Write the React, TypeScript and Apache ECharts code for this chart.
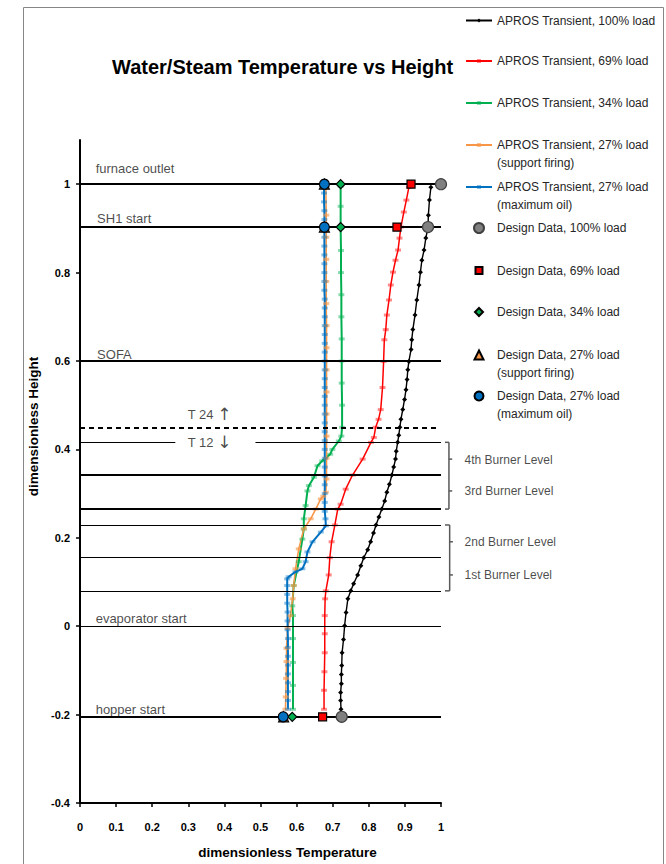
import React, { useEffect, useRef } from "react";
import * as echarts from "echarts";

const FONT = '"Liberation Sans", Arial, sans-serif';

// ---------------- data ----------------
const xTickInterval = 0.1;
const yTickValues = [-0.4, -0.2, 0, 0.2, 0.4, 0.6, 0.8, 1.0];

const seriesNames = [
  "APROS Transient, 100% load",
  "APROS Transient, 69% load",
  "APROS Transient, 34% load",
  "APROS Transient, 27% load\n(support firing)",
  "APROS Transient, 27% load\n(maximum oil)",
];
const designNames = [
  "Design Data, 100% load",
  "Design Data, 69% load",
  "Design Data, 34% load",
  "Design Data, 27% load\n(support firing)",
  "Design Data, 27% load\n(maximum oil)",
];

// [dimensionless temperature, dimensionless height]
const transient100 = [
  [0.723, -0.188], [0.722, -0.168], [0.722, -0.15], [0.724, -0.13], [0.724, -0.109],
  [0.725, -0.089], [0.726, -0.06], [0.73, -0.03], [0.733, 0.001], [0.737, 0.031],
  [0.742, 0.062], [0.75, 0.08], [0.758, 0.096], [0.769, 0.116], [0.778, 0.137],
  [0.786, 0.155], [0.797, 0.173], [0.805, 0.191], [0.813, 0.211], [0.82, 0.229],
  [0.828, 0.247], [0.836, 0.265], [0.844, 0.283], [0.85, 0.303], [0.857, 0.321],
  [0.864, 0.342], [0.869, 0.36], [0.874, 0.378], [0.876, 0.396], [0.88, 0.416],
  [0.883, 0.432], [0.886, 0.45], [0.889, 0.468], [0.894, 0.49], [0.899, 0.513],
  [0.903, 0.535], [0.906, 0.558], [0.908, 0.58], [0.911, 0.599], [0.917, 0.626],
  [0.919, 0.648], [0.922, 0.671], [0.928, 0.704], [0.933, 0.738], [0.939, 0.772],
  [0.943, 0.801], [0.947, 0.828], [0.953, 0.851], [0.958, 0.878], [0.964, 0.903],
  [0.965, 0.93], [0.968, 0.964], [0.972, 0.993],
];
const transient69 = [
  [0.676, -0.188], [0.676, -0.145], [0.677, -0.103], [0.678, -0.06], [0.678, -0.017],
  [0.678, 0.024], [0.679, 0.062], [0.681, 0.08], [0.689, 0.116], [0.692, 0.155],
  [0.697, 0.191], [0.706, 0.229], [0.714, 0.265], [0.722, 0.276], [0.736, 0.31],
  [0.755, 0.342], [0.783, 0.378], [0.806, 0.416], [0.814, 0.427], [0.819, 0.45],
  [0.827, 0.468], [0.833, 0.49], [0.838, 0.54], [0.841, 0.599], [0.843, 0.648],
  [0.847, 0.671], [0.85, 0.704], [0.856, 0.738], [0.861, 0.772], [0.867, 0.801],
  [0.874, 0.828], [0.881, 0.851], [0.885, 0.878], [0.889, 0.903], [0.897, 0.937],
  [0.904, 0.964], [0.911, 0.993],
];
const transient34 = [
  [0.59, -0.188], [0.59, -0.134], [0.59, -0.082], [0.59, -0.028], [0.59, 0.024],
  [0.588, 0.046], [0.592, 0.092], [0.606, 0.146], [0.616, 0.197], [0.62, 0.22],
  [0.62, 0.243], [0.625, 0.273], [0.63, 0.306], [0.634, 0.318], [0.648, 0.337],
  [0.658, 0.363], [0.671, 0.374], [0.693, 0.389], [0.699, 0.4], [0.717, 0.419],
  [0.724, 0.43], [0.726, 0.45], [0.726, 0.5], [0.725, 0.55], [0.725, 0.6],
  [0.725, 0.65], [0.724, 0.7], [0.724, 0.75], [0.723, 0.8], [0.723, 0.85],
  [0.722, 0.9], [0.722, 0.95], [0.722, 0.995],
];
const transient27support = [
  [0.569, -0.188], [0.57, -0.16], [0.571, -0.118], [0.572, -0.08], [0.572, -0.05],
  [0.575, -0.005], [0.583, 0.024], [0.589, 0.062], [0.592, 0.092], [0.597, 0.13],
  [0.606, 0.175], [0.62, 0.22], [0.639, 0.243], [0.653, 0.265], [0.667, 0.288],
  [0.674, 0.294], [0.681, 0.303], [0.683, 0.333], [0.683, 0.38], [0.683, 0.43],
  [0.683, 0.48], [0.683, 0.53], [0.683, 0.58], [0.683, 0.63], [0.683, 0.68],
  [0.682, 0.73], [0.682, 0.78], [0.682, 0.83], [0.682, 0.88], [0.682, 0.93],
  [0.681, 0.995],
];
const transient27maxOil = [
  [0.576, -0.188], [0.576, -0.168], [0.576, -0.148], [0.576, -0.128], [0.576, -0.108],
  [0.576, -0.088], [0.576, -0.068], [0.576, -0.048], [0.576, -0.028], [0.575, -0.008],
  [0.575, 0.012], [0.575, 0.032], [0.574, 0.052], [0.574, 0.072], [0.574, 0.092],
  [0.574, 0.107], [0.578, 0.112], [0.597, 0.123], [0.616, 0.13], [0.625, 0.146],
  [0.63, 0.168], [0.644, 0.191], [0.667, 0.213], [0.681, 0.227], [0.68, 0.243],
  [0.678, 0.26], [0.678, 0.28], [0.678, 0.3], [0.678, 0.32], [0.678, 0.34],
  [0.678, 0.36], [0.678, 0.38], [0.678, 0.4], [0.678, 0.42], [0.678, 0.44],
  [0.678, 0.46], [0.678, 0.48], [0.678, 0.5], [0.678, 0.52], [0.678, 0.54],
  [0.678, 0.56], [0.678, 0.58], [0.678, 0.6], [0.678, 0.62], [0.678, 0.64],
  [0.678, 0.66], [0.678, 0.68], [0.678, 0.7], [0.678, 0.72], [0.678, 0.74],
  [0.677, 0.76], [0.677, 0.78], [0.677, 0.8], [0.677, 0.82], [0.677, 0.84],
  [0.677, 0.86], [0.677, 0.88], [0.677, 0.9], [0.677, 0.92], [0.677, 0.94],
  [0.676, 0.96], [0.676, 0.98], [0.676, 0.995],
];

const design100 = [[1.0, 1.0], [0.964, 0.903], [0.725, -0.205]];
const design69 = [[0.917, 1.0], [0.878, 0.903], [0.672, -0.205]];
const design34 = [[0.722, 1.0], [0.722, 0.903], [0.588, -0.205]];
const design27support = [[0.677, 1.0], [0.677, 0.903], [0.564, -0.205]];
const design27maxOil = [[0.677, 1.0], [0.677, 0.903], [0.563, -0.205]];

// furnace level lines (height, start temp, end temp)
const levelHeights = [1.0, 0.903, 0.6, 0.45, 0.416, 0.416, 0.342, 0.265, 0.229, 0.155, 0.08, 0, -0.205];
const levelFrom = [0, 0, 0, 0, 0, 0.486, 0, 0, 0, 0, 0, 0, 0];
const levelTo = [1, 1, 1, 0.993, 0.264, 1, 1, 1, 1, 1, 1, 1, 1];
const levelKinds = ["thick", "thick", "thick", "dashed", "thin", "thin", "thick", "thick", "thin", "thin", "thin", "thin", "thick"];

// annotations
const annotationTexts = [
  "furnace outlet", "SH1 start", "SOFA", "T 24 ↑", "T 12 ↓", "evaporator start", "hopper start",
  "4th Burner Level", "3rd Burner Level", "2nd Burner Level", "1st Burner Level",
];
const annotationX = [0.042, 0.046, 0.046, 0.297, 0.297, 0.042, 0.042, 1.064, 1.064, 1.064, 1.064];
const annotationY = [1.035, 0.923, 0.615, 0.479, 0.416, 0.017, -0.188, 0.376, 0.306, 0.191, 0.116];
const annotationFontSizes = [13, 13, 13, 13, 13, 13, 13, 12, 12, 12, 12];

// burner level brackets, as segments [x1, y1, x2, y2]
const bracketSegments = [
  [1.011, 0.416, 1.022, 0.416],
  [1.022, 0.416, 1.022, 0.265],
  [1.011, 0.265, 1.022, 0.265],
  [1.022, 0.378, 1.031, 0.378],
  [1.022, 0.306, 1.031, 0.306],
  [1.011, 0.229, 1.024, 0.229],
  [1.024, 0.229, 1.024, 0.08],
  [1.011, 0.08, 1.024, 0.08],
  [1.024, 0.191, 1.033, 0.191],
  [1.024, 0.116, 1.033, 0.116],
];

// ---------------- styles ----------------
const transientData = [transient100, transient69, transient34, transient27support, transient27maxOil];
const transientStyles = [
  { color: "#000000", marker: "#000000", width: 1.4, symbol: "diamond", size: 5 },
  { color: "#ff0000", marker: "rgba(255,0,0,0.45)", width: 1.5, symbol: "rect", size: [6, 3] },
  { color: "#00b050", marker: "rgba(0,176,80,0.45)", width: 2, symbol: "rect", size: [6, 3] },
  { color: "#f79646", marker: "rgba(247,150,70,0.6)", width: 1.5, symbol: "rect", size: [6, 3] },
  { color: "#0070c0", marker: "rgba(0,112,192,0.45)", width: 2, symbol: "rect", size: [6, 3] },
];
const designData = [design100, design69, design34, design27support, design27maxOil];
const designStyles = [
  { symbol: "circle", size: 11, fill: "#808080", border: "#404040", legendSize: 10 },
  { symbol: "rect", size: 8, fill: "#ff0000", border: "#000000", legendSize: 7 },
  { symbol: "diamond", size: 9, fill: "#00b050", border: "#000000", legendSize: 8 },
  { symbol: "triangle", size: 10, fill: "#f79646", border: "#000000", legendSize: 9 },
  { symbol: "circle", size: 10, fill: "#0070c0", border: "#000000", legendSize: 9 },
];
const legendCenters = [20.5, 61, 103, 145, 187, 228, 270.5, 312, 355, 396];
const LEGEND_ICON_LEFT = 465;
const LEGEND_ICON_W = 26;
const LEGEND_TEXT_LEFT = 496;

function levelLineStyle(kind: string) {
  if (kind === "thick") return { color: "#000", width: 2, type: "solid" };
  if (kind === "dashed") return { color: "#000", width: 2, type: [5, 4] };
  return { color: "#000", width: 1.2, type: "solid" };
}

function buildOption() {
  const series: any[] = [];

  transientData.forEach((d, i) => {
    const s = transientStyles[i];
    series.push({
      type: "line",
      name: seriesNames[i],
      data: d,
      symbol: s.symbol,
      symbolSize: s.size,
      showSymbol: true,
      lineStyle: { color: s.color, width: s.width },
      itemStyle: { color: s.marker },
      z: 3,
      silent: true,
    });
  });

  designData.forEach((d, i) => {
    const s = designStyles[i];
    series.push({
      type: "scatter",
      name: designNames[i],
      data: d,
      symbol: s.symbol,
      symbolSize: s.size,
      itemStyle: { color: s.fill, borderColor: s.border, borderWidth: 1.2, opacity: 1 },
      z: 5,
      silent: true,
    });
  });

  const levelLines = levelHeights.map((h, i) => [
    { coord: [levelFrom[i], h], lineStyle: levelLineStyle(levelKinds[i]) },
    { coord: [levelTo[i], h] },
  ]);

  series.push({
    type: "scatter",
    name: "annotations",
    data: annotationTexts.map((t, i) => ({
      value: [annotationX[i], annotationY[i]],
      name: t,
      label: { fontSize: annotationFontSizes[i] },
    })),
    symbolSize: 1,
    itemStyle: { color: "rgba(0,0,0,0)" },
    clip: false,
    silent: true,
    z: 4,
    label: {
      show: true,
      position: "right",
      distance: 0,
      formatter: (p: any) => {
        const t: string = p.name;
        if (t.indexOf("↑") >= 0 || t.indexOf("↓") >= 0) {
          const arrow = t.slice(-1);
          return t.slice(0, -1) + "{arr|" + arrow + "}";
        }
        return t;
      },
      color: "#1a1a1a",
      fontSize: 13,
      fontFamily: FONT,
      rich: {
        arr: { fontSize: 17, fontFamily: '"DejaVu Sans", sans-serif', color: "#1a1a1a" },
      },
    },
    markLine: {
      silent: true,
      symbol: ["none", "none"],
      label: { show: false },
      data: levelLines,
    },
  });

  series.push({
    type: "custom",
    name: "brackets",
    data: bracketSegments,
    clip: false,
    silent: true,
    z: 4,
    renderItem: (params: any, api: any) => {
      const p1 = api.coord([api.value(0), api.value(1)]);
      const p2 = api.coord([api.value(2), api.value(3)]);
      return {
        type: "line",
        shape: { x1: p1[0], y1: p1[1], x2: p2[0], y2: p2[1] },
        style: { stroke: "#595959", lineWidth: 1.5 },
      };
    },
  });

  const allLegendNames = [...seriesNames, ...designNames];
  const legends = allLegendNames.map((name, i) => {
    const two = name.indexOf("\n") >= 0;
    const isLine = i < 5;
    const w = isLine ? LEGEND_ICON_W : designStyles[i - 5].legendSize;
    const h = isLine ? 5 : w;
    const left = isLine ? LEGEND_ICON_LEFT : LEGEND_ICON_LEFT + LEGEND_ICON_W / 2 - w / 2;
    const textPadLeft = Math.max(0, LEGEND_TEXT_LEFT - (left + w + 5));
    const L = two ? 17.5 : 14;
    const boxH = two ? 3 * L : L;
    return {
      show: true,
      data: [name],
      left,
      top: legendCenters[i] - boxH / 2,
      orient: "vertical",
      padding: 0,
      itemWidth: w,
      itemHeight: h,
      itemGap: 0,
      selectedMode: false,
      formatter: (n: string) => (n.indexOf("\n") >= 0 ? " \n" + n : n),
      textStyle: {
        fontSize: 12,
        fontFamily: FONT,
        color: "#262626",
        lineHeight: L,
        padding: [0, 0, 0, textPadLeft],
      },
    };
  });

  return {
    animation: false,
    backgroundColor: "#ffffff",
    textStyle: { fontFamily: FONT },
    title: {
      text: "Water/Steam Temperature vs Height",
      left: 112,
      top: 57,
      padding: 0,
      textStyle: { fontSize: 20, fontWeight: "bold", color: "#000", fontFamily: FONT },
    },
    legend: legends,
    grid: { left: 80, right: 225, top: 140, bottom: 59, containLabel: false },
    xAxis: {
      type: "value",
      min: 0,
      max: 1,
      interval: xTickInterval,
      axisLine: { show: true, onZero: false, lineStyle: { color: "#000", width: 2 } },
      axisTick: { show: true, inside: false, length: 4, lineStyle: { color: "#000", width: 1.5 } },
      axisLabel: { fontSize: 11, fontWeight: "bold", color: "#000", margin: 18, fontFamily: FONT },
      splitLine: { show: false },
      name: "dimensionless Temperature",
      nameLocation: "middle",
      nameGap: 42,
      nameTextStyle: { fontSize: 13.5, fontWeight: "bold", color: "#000", fontFamily: FONT, padding: [0, 0, 0, 54] },
    },
    yAxis: {
      type: "value",
      min: -0.4,
      max: 1.1,
      interval: 0.2,
      axisLine: { show: true, onZero: false, lineStyle: { color: "#000", width: 2 } },
      axisTick: { show: true, inside: false, length: 4, lineStyle: { color: "#000", width: 1.5 }, customValues: yTickValues },
      axisLabel: { fontSize: 11, fontWeight: "bold", color: "#000", margin: 10, fontFamily: FONT, customValues: yTickValues },
      splitLine: { show: false },
      name: "dimensionless Height",
      nameLocation: "middle",
      nameGap: 28,
      nameTextStyle: { fontSize: 13.5, fontWeight: "bold", color: "#000", fontFamily: FONT, padding: [0, 0, 0, 90] },
    },
    graphic: [
      {
        type: "rect",
        silent: true,
        z: -10,
        shape: { x: 23.5, y: 7.5, width: 640, height: 880 },
        style: { fill: "none", stroke: "#868686", lineWidth: 1 },
      },
    ],
    series,
  };
}

export default function App() {
  const ref = useRef<HTMLDivElement>(null);
  useEffect(() => {
    if (!ref.current) return;
    const chart = echarts.init(ref.current, null, { renderer: "svg" });
    chart.setOption(buildOption() as any);
    return () => {
      chart.dispose();
    };
  }, []);
  return (
    <div
      ref={ref}
      style={{ position: "fixed", left: 0, top: 0, width: 666, height: 864, background: "#fff" }}
    />
  );
}
